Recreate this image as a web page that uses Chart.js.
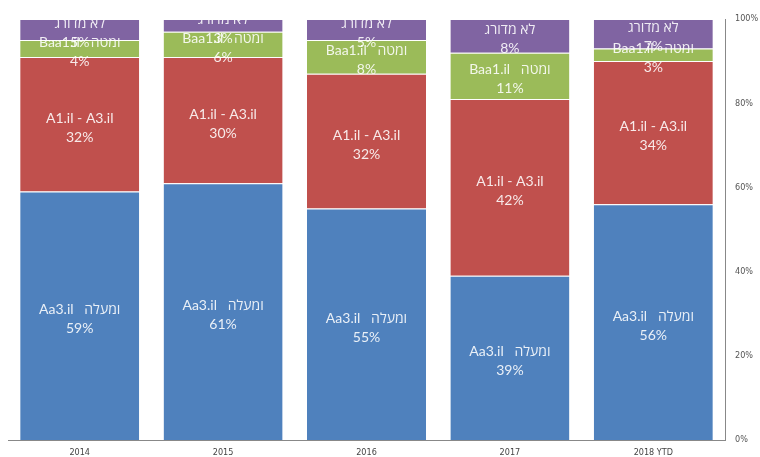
<!DOCTYPE html>
<html><head><meta charset="utf-8">
<script src="https://cdn.jsdelivr.net/npm/chart.js@4/dist/chart.umd.min.js"></script>
<style>html,body{margin:0;padding:0;background:#fff}#w{width:760px;height:457px}</style>
</head><body><div id="w"><canvas id="c"></canvas></div>
<script>
const categories = ["2014", "2015", "2016", "2017", "2018 YTD"];
const seriesNames = ["Aa3.il   ומעלה", "A1.il - A3.il", "Baa1.il   ומטה", "לא מדורג"];
const aa3Up = [59, 61, 55, 39, 56];
const a1a3 = [32, 30, 32, 42, 34];
const baa1Down = [4, 6, 8, 11, 3];
const unrated = [5, 3, 5, 8, 7];
const yTicks = [0, 20, 40, 60, 80, 100];
const colors = ["#4F81BD", "#C0504D", "#9BBB59", "#8064A2"];

const labelPlugin = {
  id: 'segLabels',
  afterDatasetsDraw(chart) {
    const ctx = chart.ctx;
    ctx.save();
    ctx.font = '14px Lato, "Open Sans", sans-serif';
    ctx.fillStyle = 'rgba(255,255,255,0.88)';
    ctx.textAlign = 'center';
    ctx.textBaseline = 'middle';
    chart.data.datasets.forEach((ds, di) => {
      const meta = chart.getDatasetMeta(di);
      meta.data.forEach((el, i) => {
        const cy = (el.y + el.base) / 2;
        ctx.fillText(ds.label, el.x, cy - 6);
        ctx.fillText(ds.data[i] + '%', el.x, cy + 13);
      });
    });
    ctx.restore();
  }
};

new Chart(document.getElementById('c'), {
  type: 'bar',
  data: {
    labels: categories,
    datasets: [aa3Up, a1a3, baa1Down, unrated].map((d, k) => ({
      label: seriesNames[k], data: d, backgroundColor: colors[k],
      borderColor: 'rgba(255,255,255,0.6)', borderWidth: {top: 1}, borderSkipped: false,
      categoryPercentage: 0.83, barPercentage: 1
    }))
  },
  options: {
    responsive: true, maintainAspectRatio: false, animation: false,
    layout: {padding: {left: 8, top: 19, right: 0, bottom: 0}},
    plugins: {legend: {display: false}, tooltip: {enabled: false}},
    scales: {
      x: {
        stacked: true,
        afterFit(ax) { ax.height = 17; },
        grid: {display: false, drawTicks: false},
        border: {display: true, color: '#888'},
        ticks: {color: '#444', font: {size: 9, family: '"Liberation Sans Narrow", "DejaVu Sans Condensed", sans-serif'}, padding: 7}
      },
      y: {
        stacked: true, position: 'right', min: 0, max: 100,
        afterBuildTicks(ax) { ax.ticks = yTicks.map(v => ({value: v})); },
        afterFit(ax) { ax.width = 35; },
        grid: {display: false, drawTicks: false},
        border: {display: true, color: '#888'},
        ticks: {color: '#555', padding: 10, font: {size: 9, family: '"Liberation Sans Narrow", "DejaVu Sans Condensed", sans-serif'}, callback: v => v + '%'}
      }
    }
  },
  plugins: [labelPlugin]
});
</script></body></html>
